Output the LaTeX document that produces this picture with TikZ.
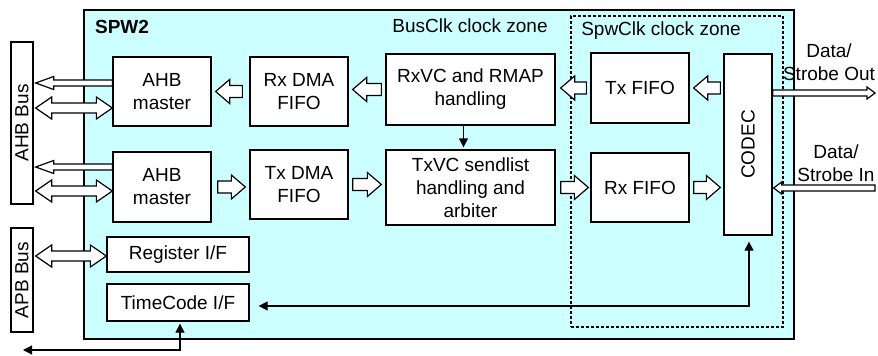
\documentclass[tikz,border=0pt]{standalone}
\usepackage{fontspec}
\setmainfont{Liberation Sans}
\usetikzlibrary{calc,arrows.meta}
\definecolor{zone}{HTML}{CCFFFF}
\newcommand\blockarr[5]{%
  \draw[arr] let \p1=#4, \p2=#5, \n1={sign(\x2-\x1)*#3} in
   (\x1,{\y1+#1pt}) -- ({\x2-\n1},{\y1+#1pt}) -- ({\x2-\n1},{\y1+#2pt}) -- (\x2,\y1)
   -- ({\x2-\n1},{\y1-#2pt}) -- ({\x2-\n1},{\y1-#1pt}) -- (\x1,{\y1-#1pt}) -- cycle;}
\newcommand\dblarr[5]{%
  \draw[arr] let \p1=#4, \p2=#5, \n1={sign(\x2-\x1)*#3} in
   (\x1,\y1) -- ({\x1+\n1},{\y1+#2pt}) -- ({\x1+\n1},{\y1+#1pt}) -- ({\x2-\n1},{\y1+#1pt})
   -- ({\x2-\n1},{\y1+#2pt}) -- (\x2,\y1) -- ({\x2-\n1},{\y1-#2pt}) -- ({\x2-\n1},{\y1-#1pt})
   -- ({\x1+\n1},{\y1-#1pt}) -- ({\x1+\n1},{\y1-#2pt}) -- cycle;}
\begin{document}
\begin{tikzpicture}[x=1pt,y=-1pt,
  txt/.style={font=\fontsize{19}{23}\selectfont, align=center, inner sep=0pt},
  box/.style={txt, draw, line width=1.3pt, fill=white},
  arr/.style={line width=1.2pt, draw=black, fill=white, line join=miter},
  lnk/.style={line width=1.3pt},
  >={Triangle[length=9pt,width=9pt]}]
\useasboundingbox (0,0) rectangle (878,356);
% containers
\node[draw, line width=1.3pt, fill=zone, minimum width=710pt, minimum height=329pt, inner sep=0pt] (spw) at (439,174.5) {};
\node[draw, line width=1.1pt, dash pattern=on 3pt off 2pt, minimum width=212pt, minimum height=311pt, inner sep=0pt] (spwclk) at (677,171.5) {};
\node[txt, font=\fontsize{19}{23}\selectfont\bfseries] (spwlbl) at (122,27) {SPW2};
\node[txt] (buslbl) at (470,26) {BusClk clock zone};
\node[txt] (spwclklbl) at (661,31) {SpwClk clock zone};
% buses
\node[box, minimum width=22pt, minimum height=162pt] (ahbbus) at (22,123) {};
\node[txt, rotate=90] (ahbbustxt) at (ahbbus) {AHB Bus};
\node[box, minimum width=22pt, minimum height=104pt] (apbbus) at (22,280) {};
\node[txt, rotate=90] (apbbustxt) at (apbbus) {APB Bus};
% blocks
\node[box, minimum width=98pt, minimum height=69pt] (ahbm1) at (162,91.5) {AHB\\master};
\node[box, minimum width=98pt, minimum height=70pt] (ahbm2) at (162,187) {AHB\\master};
\node[box, minimum width=98pt, minimum height=69pt] (rxdma) at (299,91.5) {Rx DMA\\FIFO};
\node[box, minimum width=98pt, minimum height=69pt] (txdma) at (299,184.5) {Tx DMA\\FIFO};
\node[box, minimum width=169pt, minimum height=71pt] (rxvc) at (470.5,89.5) {RxVC and RMAP\\handling};
\node[box, minimum width=169pt, minimum height=75pt] (txvc) at (470.5,187.5) {TxVC sendlist\\handling and\\arbiter};
\node[box, minimum width=98pt, minimum height=70pt] (txfifo) at (640,88) {Tx FIFO};
\node[box, minimum width=98pt, minimum height=69pt] (rxfifo) at (640,187.5) {Rx FIFO};
\node[box, minimum width=48pt, minimum height=181pt] (codec) at (748,144.5) {};
\node[txt, rotate=90] (codectxt) at (codec) {CODEC};
\node[box, minimum width=142pt, minimum height=35pt] (regif) at (178,254.5) {Register I/F};
\node[box, minimum width=142pt, minimum height=37pt] (tcif) at (178,302.5) {TimeCode I/F};
% external labels
\node[txt] (dsolbl) at (829,62) {Data/\\Strobe Out};
\node[txt] (dsilbl) at (836,163) {Data/\\Strobe In};
\coordinate (dso) at (875,93);
\coordinate (dsi) at (875,188);
\coordinate (tcfree) at (23,350);
% fat block arrows
\blockarr{6}{12}{14}{($(rxdma.west)+(-7,0)$)}{($(ahbm1.east)+(4,0)$)}
\blockarr{6}{12}{14}{($(rxvc.west)+(-4,0)$)}{($(rxdma.east)+(4,0)$)}
\blockarr{6}{12}{14}{($(txfifo.west)+(-4,0)$)}{($(rxvc.east)+(5,0)$)}
\blockarr{6}{12}{14}{($(codec.west |- txfifo.east)+(-3,0)$)}{($(txfifo.east)+(4,0)$)}
\blockarr{6}{12}{14}{($(ahbm2.east)+(6,0)$)}{($(txdma.west)+(-4,0)$)}
\blockarr{6}{12}{14}{($(txdma.east)+(4,0)$)}{($(txvc.west)+(-4,0)$)}
\blockarr{6}{12}{14}{($(txvc.east)+(5,0)$)}{($(rxfifo.west)+(-2,0)$)}
\blockarr{6}{12}{14}{($(rxfifo.east)+(4,0)$)}{($(codec.west |- rxfifo.east)+(-3,0)$)}
% bus arrows
\blockarr{3}{6.5}{18}{($(ahbm1.west)+(0,-8.5)$)}{($(ahbbus.east |- ahbm1.west)+(2,-8.5)$)}
\blockarr{3}{6.5}{18}{($(ahbm2.west)+(0,-20)$)}{($(ahbbus.east |- ahbm2.west)+(2,-20)$)}
\dblarr{5}{11}{16}{($(ahbbus.east |- ahbm1.west)+(2,16.5)$)}{($(ahbm1.west)+(0,16.5)$)}
\dblarr{5}{11}{16}{($(ahbbus.east |- ahbm2.west)+(2,4)$)}{($(ahbm2.west)+(0,4)$)}
\dblarr{5}{11}{16}{($(apbbus.east |- regif.west)+(2,1.5)$)}{($(regif.west)+(0,1.5)$)}
% data/strobe
\blockarr{3}{6}{8}{($(codec.east |- dso)$)}{(dso)}
\blockarr{3}{6}{8}{(dsi)}{($(codec.east |- dsi)+(1,0)$)}
% thin links
\draw[lnk,->] ($(rxvc.south)+(-7,0)$) -- ($(txvc.north)+(-7,-2)$);
\draw[lnk,<->] ($(codec.south)+(1,6)$) |- ($(tcif.east)+(9,3.5)$);
\draw[lnk,<->] (tcfree) -| ($(tcif.south)+(2,2)$);
\end{tikzpicture}
\end{document}
